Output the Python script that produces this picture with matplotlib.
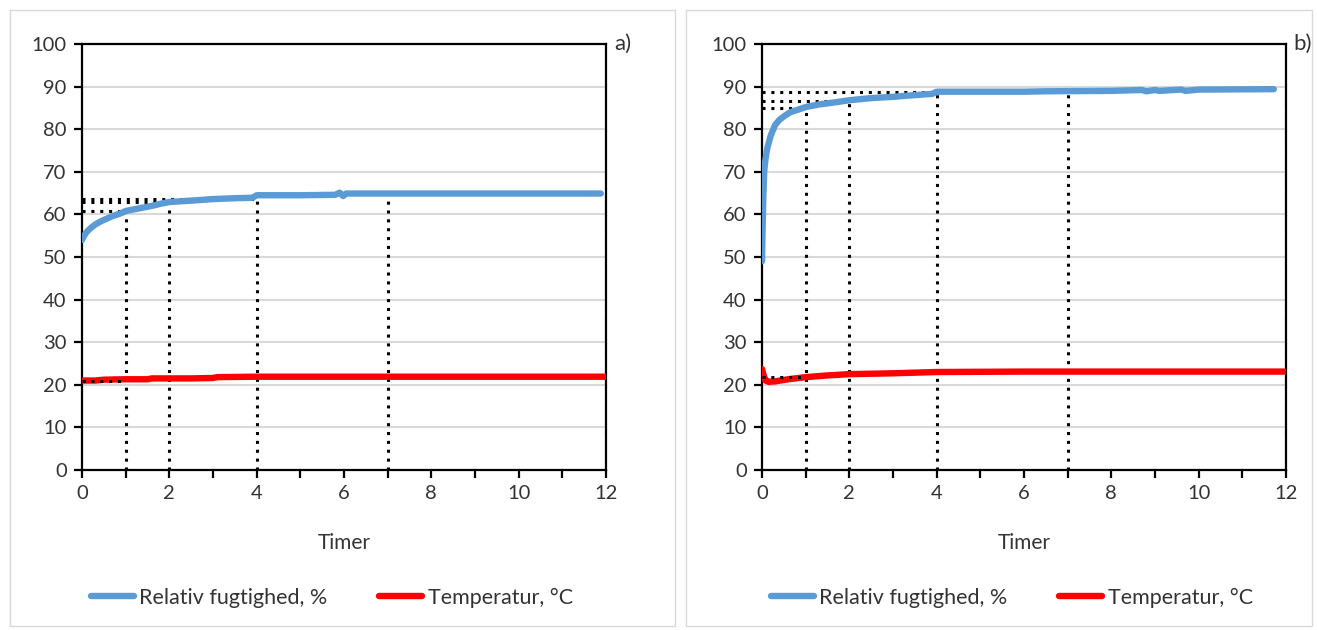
import matplotlib.pyplot as plt
from matplotlib.patches import Rectangle
from matplotlib.ticker import MultipleLocator

plt.rcParams['font.family'] = ['Lato', 'DejaVu Sans']

# a) maaling
t_rh_a = [0, 0.05, 0.1, 0.2, 0.3, 0.4, 0.5, 0.7, 0.9, 1.0, 1.2, 1.4, 1.6, 1.8, 2.0, 2.3,
          2.6, 3.0, 3.5, 3.9, 4.0, 5.0, 5.8, 5.9, 5.98, 6.05, 6.15, 7.0, 9.0, 11.88]
rh_a = [54.0, 55.0, 55.8, 56.8, 57.6, 58.2, 58.7, 59.6, 60.3, 60.8, 61.2, 61.6, 62.0, 62.5,
        62.9, 63.1, 63.3, 63.6, 63.8, 63.9, 64.5, 64.5, 64.6, 65.1, 64.3, 64.9, 64.9, 64.9,
        64.9, 64.9]
t_temp_a = [0, 0.3, 0.5, 1.0, 1.5, 1.6, 2.5, 3.0, 3.1, 4.0, 8.0, 12.0]
temp_a = [21.0, 21.0, 21.2, 21.3, 21.3, 21.5, 21.5, 21.6, 21.8, 21.9, 21.9, 21.9]
mark_rh_a = [60.8, 62.9, 63.6, 63.2, 64.9]
mark_temp_a = 21.0

# b) maaling
t_rh_b = [0, 0.01, 0.03, 0.05, 0.08, 0.12, 0.2, 0.3, 0.4, 0.5, 0.65, 0.8, 1.0, 1.3, 1.6,
          2.0, 2.5, 3.0, 3.5, 3.9, 4.0, 6.0, 6.5, 8.0, 8.7, 8.8, 9.0, 9.1, 9.6, 9.7, 10.0,
          11.72]
rh_b = [49.0, 55.0, 64.0, 70.0, 73.0, 75.5, 78.5, 81.0, 82.2, 83.0, 84.0, 84.5, 85.2, 85.8,
        86.2, 86.8, 87.3, 87.6, 88.0, 88.3, 88.8, 88.8, 88.9, 89.0, 89.2, 88.9, 89.2, 89.0,
        89.3, 89.0, 89.3, 89.4]
t_temp_b = [0, 0.03, 0.08, 0.15, 0.3, 0.6, 1.0, 1.5, 2.0, 2.5, 3.0, 4.0, 6.0, 12.0]
temp_b = [23.7, 22.5, 21.0, 20.7, 20.8, 21.3, 21.8, 22.2, 22.5, 22.6, 22.7, 23.0, 23.1, 23.1]
mark_rh_b = [84.9, 86.7, 88.8, 88.5, 89.4]
mark_temp_b = 21.8

mark_t = [1, 2, 4, 7, 12]
n_horiz = 3  # vandrette hjaelpelinjer kun til de tre foerste tidspunkter

panels = [
    ('a)', t_rh_a, rh_a, t_temp_a, temp_a, mark_rh_a, mark_temp_a),
    ('b)', t_rh_b, rh_b, t_temp_b, temp_b, mark_rh_b, mark_temp_b),
]

W, H = 1317, 630
fig = plt.figure(figsize=(W / 100, H / 100), dpi=100)

# rammer om de to diagrammer
for x0, x1 in [(10, 675), (686, 1312)]:
    fig.patches.append(Rectangle((x0 / W, 4 / H), (x1 - x0) / W, (H - 14) / H,
                                 transform=fig.transFigure, fill=False,
                                 edgecolor='#d9d9d9', linewidth=1))

BLUE = '#5b9bd5'
RED = '#ff0000'
TXT = '#333333'
FS = 14.5
dot = (0, (1, 1.9))
DOT_LW = 2.2

for i, (tag, t_rh, rh, t_temp, temp, mark_rh, mark_temp) in enumerate(panels):
    left = [82, 762][i]
    ax = fig.add_axes([left / W, 1 - 470 / H, 524 / W, 426 / H])

    ax.set_xlim(0, 12)
    ax.set_ylim(0, 100)
    ax.yaxis.set_major_locator(MultipleLocator(10))
    ax.xaxis.set_major_locator(MultipleLocator(2))
    ax.xaxis.set_minor_locator(MultipleLocator(1))
    ax.grid(axis='y', color='#d9d9d9', linewidth=1.5, zorder=0)
    ax.set_axisbelow(True)

    for s in ax.spines.values():
        s.set_color('black')
        s.set_linewidth(1.6)

    ax.tick_params(which='both', direction='out', length=6, width=1.6, color='black',
                   labelsize=FS, labelcolor=TXT, pad=5)

    # hjaelpelinjer
    for k, (tm, v) in enumerate(zip(mark_t, mark_rh)):
        ax.plot([tm, tm], [0, v], color='black', linestyle=dot, linewidth=DOT_LW, zorder=2)
        if k < n_horiz:
            ax.plot([0, tm], [v, v], color='black', linestyle=dot, linewidth=DOT_LW,
                    zorder=2)
    ax.plot([0, mark_t[0]], [mark_temp, mark_temp], color='black', linestyle=dot,
            linewidth=DOT_LW, zorder=4)

    ax.plot(t_rh, rh, color=BLUE, linewidth=4.6, solid_capstyle='round',
            solid_joinstyle='round', label='Relativ fugtighed, %', zorder=3)
    ax.plot(t_temp, temp, color=RED, linewidth=4.6, solid_capstyle='round',
            solid_joinstyle='round', label='Temperatur, °C', zorder=3)

    ax.set_xlabel('Timer', fontsize=FS + 0.5, color=TXT, labelpad=22)
    ax.text(1.015, 1.0, tag, transform=ax.transAxes, fontsize=FS + 1.5, color=TXT,
            ha='left', va='center')

    ax.legend(loc='center', bbox_to_anchor=(0.477, -0.3), ncol=2, frameon=False,
              fontsize=FS + 1, handlelength=2.0, handletextpad=0.25, columnspacing=2.4,
              labelcolor=TXT)

fig.savefig('out.png', dpi=100)
